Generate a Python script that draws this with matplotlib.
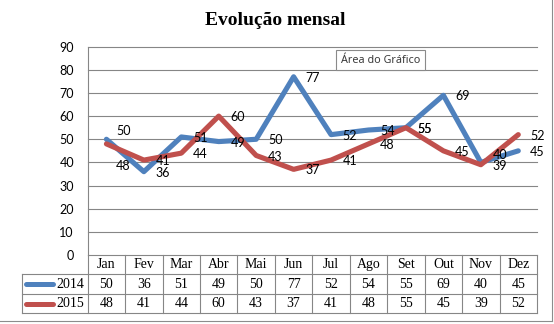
import matplotlib
matplotlib.use("Agg")
import matplotlib.pyplot as plt
import matplotlib.transforms as mtransforms
from matplotlib.lines import Line2D
import numpy as np

# Data
months = ["Jan", "Fev", "Mar", "Abr", "Mai", "Jun", "Jul", "Ago", "Set", "Out", "Nov", "Dez"]
series_names = ["2014", "2015"]
values_2014 = [50, 36, 51, 49, 50, 77, 52, 54, 55, 69, 40, 45]
values_2015 = [48, 41, 44, 60, 43, 37, 41, 48, 55, 45, 39, 52]
yticks = list(range(0, 100, 10))

# Style
blue = "#4F81BD"
red = "#C0504D"
grid_c = "#868686"
sans = ["Lato", "DejaVu Sans"]
serif = ["Liberation Serif", "DejaVu Serif"]

# label nudges (points) where excel moved labels around
nudge_2014 = {0: 5.8, 10: 5.5}
nudge_2015 = {0: -15.8}

fig = plt.figure(figsize=(5.54, 3.24), dpi=100)
ax = fig.add_axes([0.1583, 0.2130, 0.8110, 0.6429])

x = np.arange(len(months))
for vals, col, nudge in [(values_2014, blue, nudge_2014), (values_2015, red, nudge_2015)]:
    ax.plot(x, vals, color=col, lw=3.7, solid_joinstyle="round",
            solid_capstyle="round", zorder=3)
    for i, v in enumerate(vals):
        dx = 7.0 if i == 0 else 8.4
        dy = nudge.get(i, -0.8)
        ax.annotate(str(v), (i, v), xytext=(dx, dy), textcoords="offset points",
                    ha="left", va="center", fontsize=9, family=sans,
                    color="black", zorder=4)

ax.set_xlim(-0.5, 11.5)
ax.set_ylim(0, 90)
ax.set_yticks(yticks)
ax.set_xticks([])
ax.grid(axis="y", color=grid_c, lw=0.8)
ax.set_axisbelow(True)
for gl in ax.get_ygridlines():
    gl.set_clip_on(False)
for s in ["top", "right", "bottom"]:
    ax.spines[s].set_visible(False)
ax.spines["left"].set_color(grid_c)
ax.spines["left"].set_linewidth(0.8)
ax.tick_params(axis="y", length=0, pad=9.9)
for lab in ax.get_yticklabels():
    lab.set_fontsize(9)
    lab.set_family(sans)

# Data table under the axis
trans = mtransforms.blended_transform_factory(ax.transData, ax.transAxes)
row_h = 0.0936
label_left = -2.255
lk = dict(color=grid_c, lw=0.8, transform=trans, clip_on=False)
for e in np.arange(-0.5, 12, 1):
    ax.plot([e, e], [0, -3 * row_h], **lk)
ax.plot([label_left, label_left], [-row_h, -3 * row_h], **lk)
for yy in [-row_h, -2 * row_h, -3 * row_h]:
    ax.plot([label_left, 11.5], [yy, yy], **lk)

for i, m in enumerate(months):
    ax.text(i, -0.5 * row_h, m, transform=trans, ha="center", va="center",
            fontsize=10, family=serif)
for r, (vals, col, name) in enumerate(zip([values_2014, values_2015], [blue, red], series_names)):
    yy = -(1.5 + r) * row_h
    for i, v in enumerate(vals):
        ax.text(i, yy, str(v), transform=trans, ha="center", va="center",
                fontsize=10, family=serif)
    ax.plot([-2.16, -1.44], [yy, yy], color=col, lw=3.6, solid_capstyle="round",
            transform=trans, clip_on=False)
    ax.text(-0.6, yy, name, transform=trans, ha="right", va="center",
            fontsize=10, family=serif)

# Title and the hover tip
fig.text(0.497, 0.938, "Evolução mensal", ha="center", va="center",
         fontsize=14, fontweight="bold", family=serif)
fig.text(0.6868, 0.8148, "Área do Gráfico", ha="center", va="center",
         fontsize=7.8, family=["Noto Sans", "DejaVu Sans"], color="#3a3a3a",
         bbox=dict(boxstyle="square,pad=0.45", fc="white", ec="#8a8a8a", lw=0.8))

# chart border (right & bottom visible in the screenshot)
fig.add_artist(Line2D([551.5 / 554] * 2, [1, 1 - 321 / 324], transform=fig.transFigure,
                      color="#8c8c8c", lw=0.8))
fig.add_artist(Line2D([0, 551.5 / 554], [1 - 321 / 324] * 2, transform=fig.transFigure,
                      color="#8c8c8c", lw=0.8))

fig.savefig("out.png", dpi=100)
